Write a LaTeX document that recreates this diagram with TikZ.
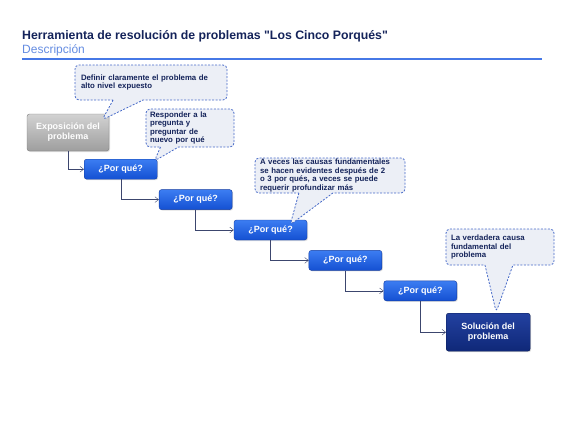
\documentclass[tikz,border=0pt]{standalone}
\usepackage{fontspec}
\setmainfont{Liberation Sans}[Ligatures=TeXOff]
\usepackage{tikz}
\usetikzlibrary{positioning,arrows.meta,shapes.callouts,shadows}
\definecolor{cpNavy}{RGB}{20,35,90}
\definecolor{cpDesc}{RGB}{100,140,225}
\definecolor{cpRule}{RGB}{70,120,230}
\definecolor{cpBlueTop}{RGB}{60,125,242}
\definecolor{cpBlueBot}{RGB}{20,80,210}
\definecolor{cpBlueLine}{RGB}{20,60,160}
\definecolor{cpGrayTop}{RGB}{210,210,210}
\definecolor{cpGrayBot}{RGB}{158,158,158}
\definecolor{cpGrayLine}{RGB}{125,125,125}
\definecolor{cpSolTop}{RGB}{35,65,160}
\definecolor{cpSolBot}{RGB}{15,40,120}
\definecolor{cpSolLine}{RGB}{10,28,85}
\definecolor{cpNoteFill}{RGB}{236,239,246}
\definecolor{cpNoteLine}{RGB}{70,105,200}
\definecolor{cpConn}{RGB}{60,70,110}

\begin{document}
\begin{tikzpicture}[x=1pt,y=-1pt,
  box/.style={draw,rounded corners=2.5pt,align=center,inner sep=0pt,text=white,
    font=\fontsize{9}{10}\selectfont\bfseries,
    drop shadow={opacity=0.25,shadow xshift=1pt,shadow yshift=-1pt}},
  why/.style={box,draw=cpBlueLine,top color=cpBlueTop,bottom color=cpBlueBot,minimum width=73pt,minimum height=20pt},
  nota/.style={rectangle callout,draw=cpNoteLine,line width=0.8pt,dash pattern=on 2pt off 1.5pt,
    fill=cpNoteFill,rounded corners=4pt,align=left,inner sep=0pt,text=cpNavy,
    font=\fontsize{7.8}{8.6}\selectfont\bfseries},
  conn/.style={draw=cpConn,-{Straight Barb[length=1.3mm,width=2mm]}}]
\useasboundingbox (0,0) rectangle (564,423);
% title
\node[anchor=west,inner sep=0pt,text=cpNavy,font=\fontsize{12.3}{14}\selectfont\bfseries] (titulo) at (22,36)
  {Herramienta de resolución de problemas "Los Cinco Porqués"};
\node[anchor=west,inner sep=0pt,text=cpDesc,font=\fontsize{12}{14}\selectfont] (desc) at (22,50) {Descripción};
\draw[cpRule,line width=1.3pt] (22,59) -- (542,59);
% chain
\node[box,draw=cpGrayLine,top color=cpGrayTop,bottom color=cpGrayBot,minimum width=82pt,minimum height=37pt] (expo) at (68,132.5) {Exposición del\\problema};
\node[why,anchor=north west] (w1) at (84,159) {¿Por qué?};
\node[why,below right=10pt and 1.5pt of w1] (w2) {¿Por qué?};
\node[why,below right=10pt and 1.5pt of w2] (w3) {¿Por qué?};
\node[why,below right=10pt and 1.5pt of w3] (w4) {¿Por qué?};
\node[why,below right=10pt and 1.5pt of w4] (w5) {¿Por qué?};
\node[box,draw=cpSolLine,top color=cpSolTop,bottom color=cpSolBot,minimum width=84pt,minimum height=38pt,below right=12pt and -11pt of w5] (sol) {Solución del\\problema};
\draw[conn] (expo.south) |- (w1.west);
\draw[conn] (w1.south) |- (w2.west);
\draw[conn] (w2.south) |- (w3.west);
\draw[conn] (w3.south) |- (w4.west);
\draw[conn] (w4.south) |- (w5.west);
\draw[conn] (w5.south) |- (sol.west);
% notes
\node[nota,minimum width=152pt,minimum height=35pt,text width=140pt,callout pointer width=30pt,
  callout absolute pointer={([xshift=-7pt,yshift=-6pt]expo.north east)}] (n1) at (151,82.5)
  {Definir claramente el problema de\\alto nivel expuesto};
\node[nota,minimum width=88pt,minimum height=38pt,text width=80pt,callout pointer width=18pt,
  callout absolute pointer={([xshift=-3pt,yshift=-2pt]w1.north east)}] (n2) at (190,128)
  {Responder a la\\pregunta y\\preguntar de\\nuevo por qué};
\node[nota,minimum width=150pt,minimum height=35pt,text width=140pt,callout pointer width=34pt,
  callout absolute pointer={([xshift=-17pt,yshift=-5pt]w3.north east)}] (n3) at (330,175.5)
  {A veces las causas fundamentales\\se hacen evidentes después de 2\\o 3 por qués, a veces se puede\\requerir profundizar más};
\node[nota,minimum width=108pt,minimum height=36pt,text width=98pt,callout pointer width=28pt,
  callout absolute pointer={([xshift=8pt,yshift=1pt]sol.north)}] (n4) at (500,247)
  {La verdadera causa\\fundamental del\\problema};
\end{tikzpicture}
\end{document}
